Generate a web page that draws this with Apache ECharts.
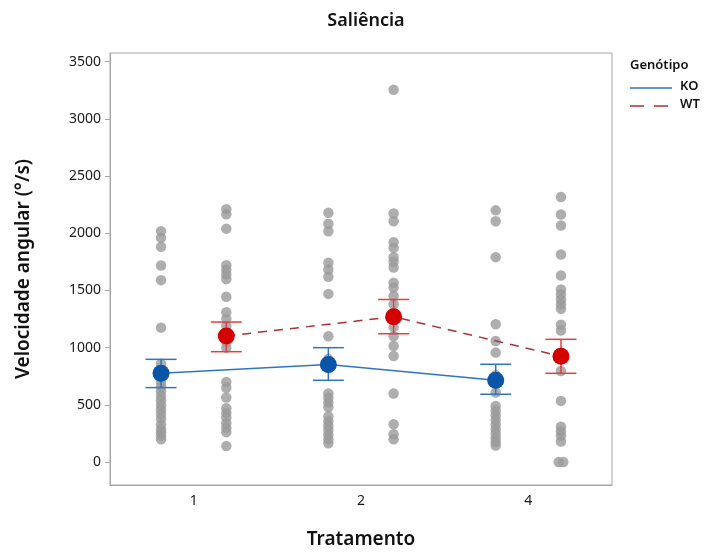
<!DOCTYPE html>
<html>
<head>
<meta charset="utf-8">
<script src="https://cdn.jsdelivr.net/npm/echarts@6/dist/echarts.min.js"></script>
<style>
  html, body { margin: 0; padding: 0; background: #fff; }
  #chart { width: 708px; height: 554px; }
</style>
</head>
<body>
<div id="chart"></div>
<script>
// Tratamento categories and y tick labels
const categories = ['1', '2', '4'];
const yTicks = [0, 500, 1000, 1500, 2000, 2500, 3000, 3500];

// Individual observations per tratamento (°/s)
const koValues = [
  [2017, 1960, 1881, 1718, 1590, 1175, 860, 800, 740, 700, 660, 620, 580, 540, 500, 460, 420, 380, 330, 290, 260, 230, 200],
  [2178, 2084, 2017, 1742, 1683, 1620, 1470, 1100, 900, 820, 600, 560, 520, 480, 400, 360, 320, 280, 240, 200, 165],
  [2200, 2105, 1791, 1204, 1058, 957, 760, 680, 608, 490, 450, 410, 370, 330, 290, 250, 210, 175, 145]
];
const wtValues = [
  [2210, 2165, 2040, 1720, 1680, 1640, 1600, 1445, 1310, 1250, 1190, 1130, 1050, 1000, 700, 650, 565, 470, 430, 390, 340, 300, 262, 140],
  [3253, 2172, 2105, 1921, 1872, 1790, 1750, 1700, 1567, 1526, 1451, 1380, 1300, 1240, 1180, 1100, 1015, 927, 600, 331, 244, 200],
  [2317, 2163, 2067, 1814, 1631, 1509, 1465, 1420, 1380, 1340, 1200, 1150, 796, 535, 310, 270, 230, 180, 0, 0]
];

// Group means with their error bar limits
const koMean = [776, 852, 715];
const koLow = [651, 715, 593];
const koHigh = [898, 1000, 855];
const wtMean = [1102, 1270, 925];
const wtLow = [965, 1122, 776];
const wtHigh = [1224, 1421, 1073];

const groupOffset = 0.195;
const tieSpread = 0.028;

function center(i, side) { return i + 0.5 + side * groupOffset; }

function dotData(values, side) {
  const out = [];
  values.forEach((vals, i) => {
    const seen = {};
    vals.forEach(v => { seen[v] = (seen[v] || 0) + 1; });
    const used = {};
    vals.forEach(v => {
      const n = seen[v];
      const k = used[v] || 0;
      used[v] = k + 1;
      const shift = n > 1 ? (k - (n - 1) / 2) * tieSpread : 0;
      out.push([center(i, side) + shift, v]);
    });
  });
  return out;
}

function meanData(means, side) { return means.map((m, i) => [center(i, side), m]); }
function barData(low, high, side) { return low.map((l, i) => [center(i, side), l, high[i]]); }

function errorBars(color) {
  return function (params, api) {
    const x = api.value(0);
    const lo = api.coord([x, api.value(1)]);
    const hi = api.coord([x, api.value(2)]);
    const hw = 15.5;
    const style = { stroke: color, lineWidth: 1.5 };
    return {
      type: 'group',
      children: [
        { type: 'line', shape: { x1: hi[0], y1: hi[1], x2: lo[0], y2: lo[1] }, style },
        { type: 'line', shape: { x1: hi[0] - hw, y1: hi[1], x2: hi[0] + hw, y2: hi[1] }, style },
        { type: 'line', shape: { x1: lo[0] - hw, y1: lo[1], x2: lo[0] + hw, y2: lo[1] }, style }
      ]
    };
  };
}

const FONT = '"Noto Sans", "Open Sans", sans-serif';
const KO_LINE = '#2f74c0';
const KO_DOT = '#0a55a8';
const WT_LINE = '#a83236';
const WT_DOT = '#d40000';
const WT_BAR = '#e04040';

const chart = echarts.init(document.getElementById('chart'), null, { renderer: 'canvas' });
chart.setOption({
  animation: false,
  backgroundColor: '#ffffff',
  title: {
    text: 'Saliência',
    left: 361, top: 7, textAlign: 'center',
    textStyle: { fontFamily: FONT, fontSize: 18, fontWeight: 600, color: '#111' }
  },
  grid: {
    left: 110, right: 96, top: 53, bottom: 68,
    show: true, borderColor: '#a6a6a6', borderWidth: 1, backgroundColor: 'transparent'
  },
  xAxis: [
    {
      type: 'category', data: categories, boundaryGap: true,
      name: 'Tratamento', nameLocation: 'middle', nameGap: 45,
      nameTextStyle: { fontFamily: FONT, fontSize: 19, fontWeight: 600, color: '#111' },
      axisLine: { onZero: false, lineStyle: { color: '#a6a6a6' } },
      axisTick: { alignWithLabel: true, length: 5, lineStyle: { color: '#a6a6a6' } },
      axisLabel: { fontFamily: FONT, fontSize: 14, color: '#1a1a1a', margin: 9 },
      splitLine: { show: false }
    },
    { type: 'value', min: 0, max: 3, show: false }
  ],
  yAxis: {
    type: 'value', min: -200, max: 3575,
    name: 'Velocidade angular (°/s)', nameLocation: 'middle', nameGap: 77,
    nameTextStyle: { fontFamily: FONT, fontSize: 19, fontWeight: 600, color: '#111' },
    axisLine: { show: true, onZero: false, lineStyle: { color: '#a6a6a6' } },
    axisTick: { show: true, length: 5, customValues: yTicks, lineStyle: { color: '#a6a6a6' } },
    axisLabel: {
      fontFamily: FONT, fontSize: 14, color: '#1a1a1a', margin: 9, customValues: yTicks,
      formatter: v => String(v)
    },
    splitLine: { show: false }
  },
  series: [
    {
      type: 'scatter', xAxisIndex: 1, data: dotData(koValues, -1),
      symbolSize: 10.5, itemStyle: { color: '#9a9a9a' }, z: 1, silent: true
    },
    {
      type: 'scatter', xAxisIndex: 1, data: dotData(wtValues, 1),
      symbolSize: 10.5, itemStyle: { color: '#9a9a9a' }, z: 1, silent: true
    },
    {
      type: 'custom', xAxisIndex: 1, data: barData(koLow, koHigh, -1),
      renderItem: errorBars(KO_LINE), z: 3, silent: true
    },
    {
      type: 'custom', xAxisIndex: 1, data: barData(wtLow, wtHigh, 1),
      renderItem: errorBars(WT_BAR), z: 3, silent: true
    },
    {
      name: 'KO', type: 'line', xAxisIndex: 1, data: meanData(koMean, -1),
      lineStyle: { color: KO_LINE, width: 1.5 },
      symbol: 'circle', symbolSize: 17, itemStyle: { color: KO_DOT },
      z: 5, silent: true
    },
    {
      name: 'WT', type: 'line', xAxisIndex: 1, data: meanData(wtMean, 1),
      lineStyle: { color: WT_LINE, width: 1.5, type: [9, 7] },
      symbol: 'circle', symbolSize: 17, itemStyle: { color: WT_DOT },
      z: 5, silent: true
    }
  ],
  graphic: [
    { type: 'text', left: 630, top: 59, style: { text: 'Genótipo', font: '600 13px ' + FONT, fill: '#111' } },
    { type: 'line', shape: { x1: 630, y1: 88, x2: 672, y2: 88 }, style: { stroke: KO_LINE, lineWidth: 1.5 } },
    { type: 'text', left: 680, top: 80, style: { text: 'KO', font: '600 13px ' + FONT, fill: '#111' } },
    { type: 'line', shape: { x1: 630, y1: 106, x2: 672, y2: 106 }, style: { stroke: WT_LINE, lineWidth: 1.5, lineDash: [14, 10] } },
    { type: 'text', left: 680, top: 98, style: { text: 'WT', font: '600 13px ' + FONT, fill: '#111' } }
  ]
});
</script>
</body>
</html>
